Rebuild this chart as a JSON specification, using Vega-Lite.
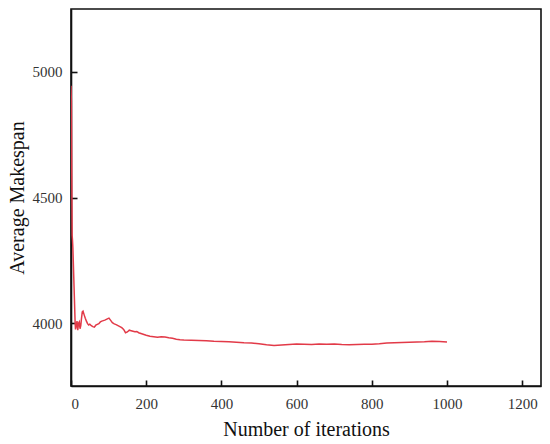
{
  "$schema": "https://vega.github.io/schema/vega-lite/v6.json",
  "width": 470,
  "height": 377,
  "autosize": {"type": "none"},
  "padding": {"left": 71, "top": 9, "right": 9, "bottom": 58},
  "background": "white",
  "config": {
    "view": {"stroke": "#111111", "strokeWidth": 1.6},
    "font": "Liberation Serif"
  },
  "data": {
    "values": [
      {"iter": 0, "makespan": 4945},
      {"iter": 1, "makespan": 4880},
      {"iter": 2, "makespan": 4600},
      {"iter": 3, "makespan": 4350},
      {"iter": 4, "makespan": 4330},
      {"iter": 5, "makespan": 4300},
      {"iter": 7, "makespan": 4200},
      {"iter": 9, "makespan": 4100},
      {"iter": 11, "makespan": 4000},
      {"iter": 12, "makespan": 3975},
      {"iter": 14, "makespan": 3990},
      {"iter": 16, "makespan": 4008},
      {"iter": 18, "makespan": 3972},
      {"iter": 20, "makespan": 4000},
      {"iter": 22, "makespan": 4005},
      {"iter": 24, "makespan": 3978},
      {"iter": 26, "makespan": 3990},
      {"iter": 28, "makespan": 4020},
      {"iter": 30, "makespan": 4045},
      {"iter": 32, "makespan": 4048},
      {"iter": 35, "makespan": 4033},
      {"iter": 38, "makespan": 4020},
      {"iter": 41, "makespan": 4008},
      {"iter": 44, "makespan": 3998},
      {"iter": 47, "makespan": 3993},
      {"iter": 50, "makespan": 3996},
      {"iter": 54, "makespan": 3990},
      {"iter": 58, "makespan": 3986},
      {"iter": 62, "makespan": 3984},
      {"iter": 66, "makespan": 3992},
      {"iter": 70, "makespan": 3995},
      {"iter": 74, "makespan": 3998},
      {"iter": 78, "makespan": 4005},
      {"iter": 82, "makespan": 4008},
      {"iter": 86, "makespan": 4010},
      {"iter": 90, "makespan": 4012},
      {"iter": 94, "makespan": 4015},
      {"iter": 98, "makespan": 4018},
      {"iter": 101, "makespan": 4020},
      {"iter": 105, "makespan": 4012},
      {"iter": 110, "makespan": 4002},
      {"iter": 115, "makespan": 3997},
      {"iter": 120, "makespan": 3994},
      {"iter": 125, "makespan": 3990},
      {"iter": 130, "makespan": 3986},
      {"iter": 135, "makespan": 3982},
      {"iter": 140, "makespan": 3975},
      {"iter": 145, "makespan": 3962},
      {"iter": 150, "makespan": 3965},
      {"iter": 155, "makespan": 3972},
      {"iter": 160, "makespan": 3970},
      {"iter": 165, "makespan": 3968},
      {"iter": 170, "makespan": 3966},
      {"iter": 175, "makespan": 3967},
      {"iter": 180, "makespan": 3962},
      {"iter": 190, "makespan": 3957},
      {"iter": 200, "makespan": 3952},
      {"iter": 210, "makespan": 3948},
      {"iter": 220, "makespan": 3946},
      {"iter": 230, "makespan": 3944},
      {"iter": 240, "makespan": 3946},
      {"iter": 250, "makespan": 3945},
      {"iter": 260, "makespan": 3942},
      {"iter": 270, "makespan": 3940},
      {"iter": 280, "makespan": 3936},
      {"iter": 290, "makespan": 3934},
      {"iter": 300, "makespan": 3933},
      {"iter": 320, "makespan": 3932},
      {"iter": 340, "makespan": 3931},
      {"iter": 360, "makespan": 3930},
      {"iter": 380, "makespan": 3928},
      {"iter": 400, "makespan": 3927},
      {"iter": 420, "makespan": 3926},
      {"iter": 440, "makespan": 3924},
      {"iter": 460, "makespan": 3922},
      {"iter": 480, "makespan": 3921},
      {"iter": 500, "makespan": 3918},
      {"iter": 520, "makespan": 3914},
      {"iter": 540, "makespan": 3911},
      {"iter": 560, "makespan": 3913},
      {"iter": 580, "makespan": 3915},
      {"iter": 600, "makespan": 3917},
      {"iter": 620, "makespan": 3916},
      {"iter": 640, "makespan": 3915},
      {"iter": 660, "makespan": 3917},
      {"iter": 680, "makespan": 3916},
      {"iter": 700, "makespan": 3917},
      {"iter": 720, "makespan": 3915},
      {"iter": 740, "makespan": 3914},
      {"iter": 760, "makespan": 3915},
      {"iter": 780, "makespan": 3916},
      {"iter": 800, "makespan": 3916},
      {"iter": 820, "makespan": 3918},
      {"iter": 840, "makespan": 3921},
      {"iter": 860, "makespan": 3922},
      {"iter": 880, "makespan": 3923},
      {"iter": 900, "makespan": 3924},
      {"iter": 920, "makespan": 3925},
      {"iter": 940, "makespan": 3926},
      {"iter": 960, "makespan": 3928},
      {"iter": 980, "makespan": 3927},
      {"iter": 1000, "makespan": 3925}
    ]
  },
  "mark": {"type": "line", "color": "#e23a48", "strokeWidth": 1.5, "clip": true},
  "encoding": {
    "x": {
      "field": "iter",
      "type": "quantitative",
      "scale": {"domain": [0, 1250], "nice": false, "zero": false},
      "axis": {
        "title": "Number of iterations",
        "titleFont": "Liberation Serif",
        "titleFontSize": 20,
        "titleFontWeight": "normal",
        "titleColor": "#111111",
        "titlePadding": 8,
        "values": [0, 200, 400, 600, 800, 1000, 1200],
        "format": "d",
        "grid": false,
        "domainColor": "#111111",
        "domainWidth": 1.6,
        "tickColor": "#111111",
        "tickWidth": 1.6,
        "tickSize": -6,
        "labelPadding": 16,
        "labelFontSize": 15,
        "labelColor": "#333333",
        "labelFont": "Liberation Serif"
      }
    },
    "y": {
      "field": "makespan",
      "type": "quantitative",
      "scale": {"domain": [3750, 5250], "nice": false, "zero": false},
      "axis": {
        "title": "Average Makespan",
        "titleFont": "Liberation Serif",
        "titleFontSize": 20,
        "titleFontWeight": "normal",
        "titleColor": "#111111",
        "titlePadding": 5,
        "values": [4000, 4500, 5000],
        "format": "d",
        "grid": false,
        "domainColor": "#111111",
        "domainWidth": 1.6,
        "tickColor": "#111111",
        "tickWidth": 1.6,
        "tickSize": -6,
        "labelPadding": 15,
        "labelFontSize": 15,
        "labelColor": "#333333",
        "labelFont": "Liberation Serif"
      }
    }
  }
}
